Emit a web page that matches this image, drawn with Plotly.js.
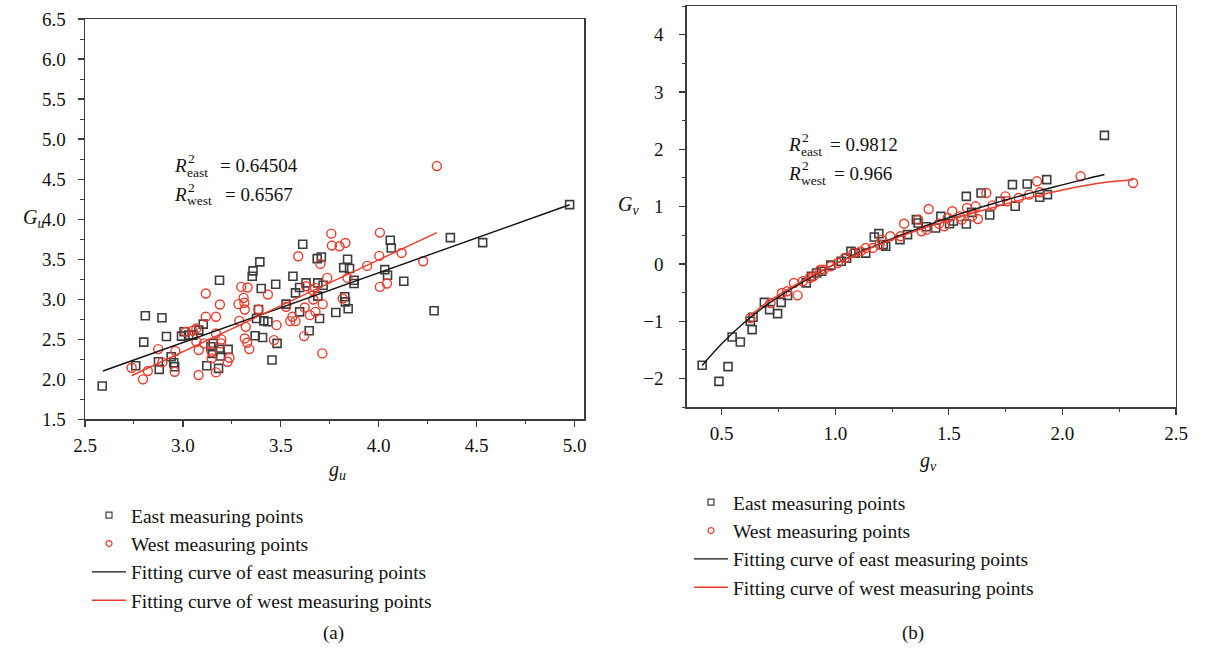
<!DOCTYPE html>
<html>
<head>
<meta charset="utf-8">
<script src="https://cdn.plot.ly/plotly-3.0.1.min.js"></script>
<style>html,body{margin:0;padding:0;background:#fff;}#chart{width:1207px;height:650px;}</style>
</head>
<body>
<div id="chart"></div>
<script>
// ---------- Panel (a): g_u vs G_u ----------
const eastU_x = [2.588,2.759,2.800,2.808,2.879,2.875,2.893,2.916,2.940,2.953,2.958,2.993,3.006,3.029,3.051,3.104,3.081,3.122,3.143,3.155,3.152,3.182,3.187,3.192,3.187,3.231,3.358,3.354,3.393,3.400,3.386,3.376,3.369,3.407,3.413,3.434,3.455,3.474,3.481,3.527,3.562,3.575,3.596,3.596,3.612,3.629,3.645,3.686,3.707,3.689,3.698,3.716,3.689,3.781,3.821,3.827,3.830,3.841,3.851,3.844,3.874,3.874,4.031,4.045,4.059,4.064,4.128,4.283,4.366,4.531,4.975];
const eastU_y = [1.916,2.169,2.464,2.793,2.123,2.219,2.768,2.535,2.281,2.207,2.157,2.539,2.593,2.552,2.552,2.689,2.614,2.169,2.406,2.448,2.323,2.136,2.373,2.290,3.237,2.373,3.354,3.287,3.466,3.133,2.872,2.759,2.543,2.522,2.730,2.718,2.240,3.187,2.448,2.938,3.287,3.079,3.146,2.842,3.686,3.204,2.606,3.507,3.528,3.204,2.759,3.175,3.038,2.834,3.395,3.030,2.967,3.499,3.383,2.880,3.196,3.237,3.370,3.300,3.736,3.640,3.225,2.855,3.769,3.707,4.181];
const westU_x = [2.738,2.796,2.821,2.874,2.895,2.962,2.958,3.016,3.050,3.069,3.069,3.081,3.080,3.108,3.117,3.117,3.147,3.147,3.169,3.169,3.169,3.189,3.196,3.194,3.228,3.238,3.284,3.288,3.298,3.310,3.314,3.316,3.316,3.321,3.328,3.330,3.339,3.386,3.434,3.465,3.478,3.527,3.548,3.575,3.559,3.589,3.619,3.622,3.629,3.649,3.663,3.675,3.677,3.666,3.702,3.712,3.714,3.737,3.758,3.761,3.800,3.830,3.841,3.816,3.941,4.006,4.003,4.006,4.042,4.117,4.227,4.297];
const westU_y = [2.144,1.999,2.103,2.377,2.211,2.352,2.094,2.593,2.606,2.635,2.468,2.365,2.053,2.448,2.780,3.071,2.344,2.261,2.780,2.572,2.086,2.934,2.498,2.448,2.219,2.269,2.938,2.730,3.154,3.017,2.955,2.872,2.510,2.655,2.456,3.146,2.377,2.872,3.059,2.489,2.676,2.905,2.726,2.726,2.780,3.537,2.539,2.897,3.162,2.801,3.113,3.142,2.842,2.996,3.441,2.323,2.938,3.266,3.819,3.670,3.661,3.703,3.266,3.009,3.416,3.832,3.541,3.154,3.196,3.578,3.474,4.663];
const fitEastU_x = [2.592, 4.975];
const fitEastU_y = [2.103, 4.180];
const fitWestU_x = [2.738, 4.297];
const fitWestU_y = [2.044, 3.832];

// ---------- Panel (b): g_v vs G_v ----------
const eastV_x = [0.414,0.488,0.528,0.546,0.582,0.634,0.638,0.626,0.688,0.711,0.746,0.762,0.790,0.872,0.895,0.918,0.940,0.980,1.026,1.050,1.069,1.088,1.134,1.172,1.192,1.211,1.222,1.285,1.318,1.357,1.365,1.400,1.442,1.465,1.503,1.520,1.577,1.577,1.600,1.642,1.680,1.726,1.780,1.792,1.845,1.900,1.931,1.934,2.185];
const eastV_y = [-1.767,-2.047,-1.790,-1.273,-1.360,-1.145,-0.930,-1.000,-0.669,-0.797,-0.866,-0.669,-0.550,-0.330,-0.215,-0.157,-0.128,-0.020,0.047,0.100,0.220,0.190,0.190,0.470,0.530,0.337,0.308,0.424,0.512,0.773,0.715,0.650,0.628,0.831,0.703,0.750,1.180,0.698,0.900,1.238,0.855,1.093,1.384,1.006,1.395,1.163,1.471,1.209,2.244];
const westV_x = [0.626,0.715,0.765,0.788,0.818,0.834,0.857,0.888,0.903,0.934,0.949,0.980,1.011,1.042,1.080,1.111,1.134,1.165,1.203,1.195,1.242,1.288,1.303,1.365,1.380,1.403,1.411,1.457,1.480,1.495,1.515,1.549,1.557,1.580,1.603,1.618,1.628,1.665,1.692,1.749,1.757,1.808,1.854,1.888,1.900,2.080,2.311];
const westV_y = [-0.942,-0.680,-0.506,-0.477,-0.331,-0.547,-0.302,-0.244,-0.215,-0.099,-0.099,-0.041,0.017,0.105,0.190,0.220,0.280,0.280,0.424,0.337,0.483,0.483,0.703,0.773,0.570,0.599,0.959,0.703,0.657,0.802,0.919,0.831,0.773,0.977,0.831,1.006,0.785,1.238,1.023,1.180,1.093,1.151,1.209,1.442,1.250,1.529,1.413];
const fitEastV_x = [0.414,0.5,0.6,0.7,0.8,0.9,1.0,1.1,1.2,1.3,1.4,1.5,1.6,1.7,1.8,1.9,2.0,2.1,2.185];
const fitEastV_y = [-1.77,-1.39,-1.02,-0.71,-0.45,-0.21,0.0,0.19,0.36,0.52,0.67,0.81,0.94,1.06,1.17,1.28,1.38,1.48,1.56];
const fitWestV_x = [0.626,0.7,0.8,0.9,1.0,1.1,1.2,1.3,1.4,1.5,1.6,1.7,1.8,1.9,2.0,2.1,2.2,2.311];
const fitWestV_y = [-0.90,-0.67,-0.42,-0.20,0.0,0.18,0.35,0.50,0.64,0.76,0.88,0.99,1.10,1.20,1.29,1.37,1.43,1.47];

const legendLabels = ['East measuring points','West measuring points','Fitting curve of east measuring points','Fitting curve of west measuring points'];
const panelLabels = ['(a)','(b)'];
const r2Subs = [['east','west'],['east','west']];
const r2Values = [['= 0.64504','= 0.6567'],['= 0.9812','= 0.966']];

const FONT = 'Liberation Serif, Tinos, DejaVu Serif, serif';
const GRAY = '#3c3c3c';
const RED = '#ee3b2c';

function panelTraces(ex, ey, wx, wy, fex, fey, fwx, fwy, xa, ya, lg, sqSize, ciSize) {
  return [
    {x: ex, y: ey, xaxis: xa, yaxis: ya, type: 'scatter', mode: 'markers', showlegend: false,
     marker: {symbol: 'square-open', size: sqSize, color: GRAY, line: {width: 1.6, color: GRAY}}},
    {x: wx, y: wy, xaxis: xa, yaxis: ya, type: 'scatter', mode: 'markers', showlegend: false,
     marker: {symbol: 'circle-open', size: ciSize, color: RED, line: {width: 1.4, color: RED}}},
    {x: fex, y: fey, xaxis: xa, yaxis: ya, type: 'scatter', mode: 'lines', showlegend: false,
     line: {color: '#111', width: 1.4, shape: 'spline'}},
    {x: fwx, y: fwy, xaxis: xa, yaxis: ya, type: 'scatter', mode: 'lines', showlegend: false,
     line: {color: RED, width: 1.4, shape: 'spline'}},
    {x: [null], y: [null], xaxis: xa, yaxis: ya, type: 'scatter', mode: 'markers', name: legendLabels[0], legend: lg,
     marker: {symbol: 'square-open', size: 6, color: GRAY, line: {width: 1.2, color: GRAY}}},
    {x: [null], y: [null], xaxis: xa, yaxis: ya, type: 'scatter', mode: 'markers', name: legendLabels[1], legend: lg,
     marker: {symbol: 'circle-open', size: 6, color: RED, line: {width: 1.2, color: RED}}},
    {x: [null], y: [null], xaxis: xa, yaxis: ya, type: 'scatter', mode: 'lines', name: legendLabels[2], legend: lg,
     line: {color: '#111', width: 1.4}},
    {x: [null], y: [null], xaxis: xa, yaxis: ya, type: 'scatter', mode: 'lines', name: legendLabels[3], legend: lg,
     line: {color: RED, width: 1.4}}
  ];
}

const traces = [].concat(
  panelTraces(eastU_x, eastU_y, westU_x, westU_y, fitEastU_x, fitEastU_y, fitWestU_x, fitWestU_y, 'x', 'y', 'legend', 8, 9),
  panelTraces(eastV_x, eastV_y, westV_x, westV_y, fitEastV_x, fitEastV_y, fitWestV_x, fitWestV_y, 'x2', 'y2', 'legend2', 8, 9)
);

const W = 1207, H = 650;
function px(x) { return x / W; }
function py(y) { return 1 - y / H; }

function axisBase(extra) {
  return Object.assign({
    showgrid: false, zeroline: false, showline: true, mirror: true,
    linecolor: GRAY, linewidth: 1.4,
    ticks: 'outside', ticklen: 6, tickwidth: 1.2, tickcolor: GRAY,
    tickfont: {family: FONT, size: 19, color: '#111'},
    fixedrange: true
  }, extra);
}
const minorTicks = (d) => ({dtick: d, ticks: 'outside', ticklen: 3.5, tickcolor: GRAY, tickwidth: 1});

const legendBase = {
  font: {family: FONT, size: 19.5, color: '#111'},
  bgcolor: 'rgba(0,0,0,0)', borderwidth: 0,
  xanchor: 'left', yanchor: 'top', traceorder: 'normal',
  itemwidth: 34
};

const BIG = {family: FONT, size: 19, color: '#111'};
const SMALL = {family: FONT, size: 13.5, color: '#111'};

function r2Block(xR, xSub, xEq, yMid, sub, val) {
  return [
    {text: '<i>R</i>', x: px(xR), y: py(yMid), xanchor: 'left', font: BIG},
    {text: '2', x: px(xSub + 1), y: py(yMid - 7), xanchor: 'left', font: SMALL},
    {text: sub, x: px(xSub), y: py(yMid + 7), xanchor: 'left', font: SMALL},
    {text: val, x: px(xEq), y: py(yMid), xanchor: 'left', font: BIG}
  ];
}

let annotations = [].concat(
  r2Block(172, 185, 218, 165, r2Subs[0][0], r2Values[0][0]),
  r2Block(172, 185, 223, 194, r2Subs[0][1], r2Values[0][1]),
  r2Block(786, 799, 828, 144, r2Subs[1][0], r2Values[1][0]),
  r2Block(786, 799, 832, 173, r2Subs[1][1], r2Values[1][1]),
  [
    {text: '<i>G</i><sub><i>u</i></sub>', x: px(33), y: py(219), xanchor: 'center', font: {family: FONT, size: 20, color: '#111'}},
    {text: '<i>g</i><sub><i>u</i></sub>', x: px(337), y: py(470), xanchor: 'center', font: {family: FONT, size: 20, color: '#111'}},
    {text: '<i>G</i><sub><i>v</i></sub>', x: px(628), y: py(206), xanchor: 'center', font: {family: FONT, size: 20, color: '#111'}},
    {text: '<i>g</i><sub><i>v</i></sub>', x: px(928), y: py(461), xanchor: 'center', font: {family: FONT, size: 20, color: '#111'}},
    {text: panelLabels[0], x: px(333), y: py(633), xanchor: 'center', font: BIG},
    {text: panelLabels[1], x: px(913), y: py(633), xanchor: 'center', font: BIG}
  ]
).map(a => Object.assign({xref: 'paper', yref: 'paper', yanchor: 'middle', showarrow: false}, a));

const layout = {
  width: W, height: H,
  margin: {l: 0, r: 0, t: 0, b: 0, pad: 0},
  paper_bgcolor: '#fff', plot_bgcolor: '#fff',
  font: {family: FONT, color: '#111'},
  xaxis: axisBase({domain: [px(85), px(584.3)], range: [2.5, 5.05], dtick: 0.5, tick0: 2.5, tickformat: '.1f',
                   minor: minorTicks(0.25), anchor: 'y', ticklabelstandoff: 2}),
  yaxis: axisBase({domain: [py(419.3), py(19)], range: [1.5, 6.5], dtick: 0.5, tick0: 1.5, tickformat: '.1f',
                   minor: minorTicks(0.25), anchor: 'x', ticklabelstandoff: 8}),
  xaxis2: axisBase({domain: [px(686.7), px(1176)], range: [0.346, 2.5], dtick: 0.5, tick0: 0.5, tickformat: '.1f',
                   minor: minorTicks(0.25), anchor: 'y2', ticklabelstandoff: 2}),
  yaxis2: axisBase({domain: [py(407.3), py(6)], range: [-2.5, 4.5], dtick: 1, tick0: 0,
                   minor: minorTicks(0.5), anchor: 'x2', ticklabelstandoff: 12}),
  legend: Object.assign({}, legendBase, {x: px(87), y: py(496)}),
  legend2: Object.assign({}, legendBase, {x: px(689), y: py(483)}),
  annotations: annotations,
  showlegend: true
};

Plotly.newPlot('chart', traces, layout, {staticPlot: true, displayModeBar: false});
</script>
</body>
</html>
